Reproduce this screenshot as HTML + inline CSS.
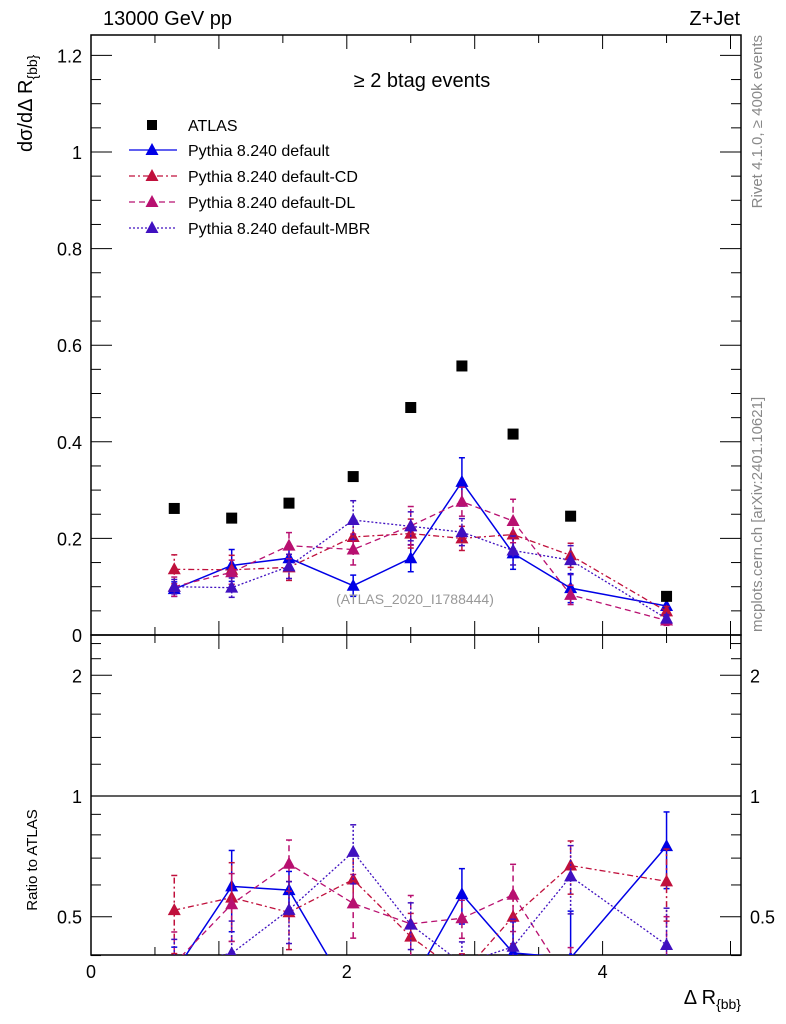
<!DOCTYPE html>
<html><head><meta charset="utf-8"><style>
body{margin:0;background:#fff}
svg{display:block;font-family:"Liberation Sans",sans-serif}
</style></head><body>
<svg id="c" width="786" height="1024" viewBox="0 0 786 1024">
<defs>
<clipPath id="clipMain"><rect x="91" y="35" width="650" height="600"/></clipPath>
<clipPath id="clipRatio"><rect x="91" y="635" width="650" height="320"/></clipPath>
</defs>
<g id="frame"></g>
<g id="marks"></g>
<text x="103" y="25" font-size="20">13000 GeV pp</text>
<text x="740" y="25" font-size="20" text-anchor="end">Z+Jet</text>
<text x="422" y="87" font-size="20" text-anchor="middle">≥ 2 btag events</text>
<text x="415" y="604" font-size="14" fill="#999" text-anchor="middle">(ATLAS_2020_I1788444)</text>
<text transform="translate(762,35) rotate(-90)" font-size="15" fill="#888" text-anchor="end">Rivet 4.1.0, ≥ 400k events</text>
<text transform="translate(762,632) rotate(-90)" font-size="15" fill="#888">mcplots.cern.ch [arXiv:2401.10621]</text>
<text transform="translate(32,152) rotate(-90)" font-size="20">dσ/dΔ R<tspan font-size="14" dy="5">{bb}</tspan></text>
<text transform="translate(37,860) rotate(-90)" font-size="15" text-anchor="middle">Ratio to ATLAS</text>
<text x="741" y="1004" font-size="20" text-anchor="end">Δ R<tspan font-size="14" dy="5">{bb}</tspan></text>
<g id="legend"></g>
</svg>
<script>
const centers=[0.651,1.1,1.548,2.05,2.5,2.9,3.3,3.75,4.5];
const atlas=[0.262,0.242,0.273,0.328,0.471,0.557,0.416,0.246,0.080];
const pyDef=[0.095,0.144,0.159,0.102,0.159,0.317,0.169,0.097,0.060];
const pyDefErr=[0.015,0.033,0.018,0.022,0.028,0.050,0.033,0.030,0.013];
const pyCD=[0.136,0.135,0.140,0.203,0.210,0.200,0.208,0.165,0.049];
const pyCDErr=[0.030,0.030,0.027,0.030,0.030,0.025,0.030,0.025,0.010];
const pyDL=[0.100,0.130,0.185,0.177,0.226,0.276,0.236,0.083,0.030];
const pyDLErr=[0.020,0.025,0.027,0.032,0.040,0.030,0.045,0.020,0.010];
const pyMBR=[0.100,0.098,0.142,0.238,0.225,0.213,0.175,0.155,0.034];
const pyMBRErr=[0.015,0.020,0.025,0.040,0.030,0.028,0.030,0.030,0.008];
const mainTicks=[0,0.2,0.4,0.6,0.8,1,1.2];
const mainTickLabels=["0","0.2","0.4","0.6","0.8","1","1.2"];
const ratioTicks=[0.5,1,2];
const ratioTickLabels=["0.5","1","2"];
const xTicks=[0,2,4];
const xTickLabels=["0","2","4"];

const NS="http://www.w3.org/2000/svg";
const X=v=>91+v*127.9;
const Y=v=>635-v*483;
const R=v=>796-Math.log2(v)*120.7;
function mk(t,a,p){const e=document.createElementNS(NS,t);for(const k in a)e.setAttribute(k,a[k]);p.appendChild(e);return e;}
const frame=document.getElementById('frame'),marks=document.getElementById('marks'),leg=document.getElementById('legend');

let f1=mk('rect',{x:91,y:35,width:650,height:600,fill:'none',stroke:'#000','stroke-width':1.5},frame);

let f2=mk('rect',{x:91,y:635,width:650,height:320,fill:'none',stroke:'#000','stroke-width':1.5},frame);

let l1=mk('line',{x1:91,x2:741,y1:R(1),y2:R(1),stroke:'#000','stroke-width':1.2},frame);


for(let v=0;v<=5.05;v+=0.5){
  const maj=Math.abs(v-Math.round(v))<1e-6;const L=maj?14:8;
  [[635,-1],[35,1],[955,-1],[635,1]].forEach(([y,d])=>{mk('line',{x1:X(v),x2:X(v),y1:y,y2:y+d*L,stroke:'#000','stroke-width':1},frame);});
}
xTicks.forEach((v,i)=>{const t=mk('text',{x:X(v),y:978,'font-size':18,'text-anchor':'middle'},frame);t.textContent=xTickLabels[i];
});
for(let v=0;v<=1.25;v+=0.05){const maj=Math.round(v*100)%20===0;const L=maj?21:10;
  mk('line',{x1:91,x2:91+L,y1:Y(v),y2:Y(v),stroke:'#000'},frame);mk('line',{x1:741,x2:741-L,y1:Y(v),y2:Y(v),stroke:'#000'},frame);}
mainTicks.forEach((v,i)=>{const t=mk('text',{x:82,y:Y(v)+7,'font-size':18,'text-anchor':'end'},frame);t.textContent=mainTickLabels[i];
});
[0.4,0.5,0.6,0.7,0.8,0.9,1,2].forEach(v=>{const maj=ratioTicks.includes(v);const L=maj?21:10;
  mk('line',{x1:91,x2:91+L,y1:R(v),y2:R(v),stroke:'#000'},frame);mk('line',{x1:741,x2:741-L,y1:R(v),y2:R(v),stroke:'#000'},frame);});
[1.2,1.4,1.6,1.8,2.2,2.4].forEach(v=>{mk('line',{x1:91,x2:101,y1:R(v),y2:R(v),stroke:'#000'},frame);mk('line',{x1:741,x2:731,y1:R(v),y2:R(v),stroke:'#000'},frame);});
ratioTicks.forEach((v,i)=>{[[82,'end'],[750,'start']].forEach(([x,a])=>{const t=mk('text',{x:x,y:R(v)+7,'font-size':18,'text-anchor':a},frame);t.textContent=ratioTickLabels[i];
});});

const series=[
 {name:'default',vals:pyDef,err:pyDefErr,col:'#0000e6',dash:'',w:1.5},
 {name:'cd',vals:pyCD,err:pyCDErr,col:'#c0103c',dash:'6,3,2,3',w:1.3},
 {name:'dl',vals:pyDL,err:pyDLErr,col:'#b81070',dash:'6,4',w:1.3},
 {name:'mbr',vals:pyMBR,err:pyMBRErr,col:'#4010c0',dash:'2,2',w:1.3}
];
function tri(g,x,y,col){mk('path',{d:`M${x},${y-7}L${x+6.5},${y+5}L${x-6.5},${y+5}Z`,fill:col},g);}
const gMain=mk('g',{'clip-path':'url(#clipMain)'},marks);
const gRat=mk('g',{'clip-path':'url(#clipRatio)'},marks);
series.forEach(s=>{
  const g=mk('g',{},gMain);
  const gr=mk('g',{},gRat);
  const pts=centers.map((c,i)=>X(c)+','+Y(s.vals[i])).join(' ');
  mk('polyline',{points:pts,fill:'none',stroke:s.col,'stroke-width':s.w,'stroke-dasharray':s.dash},g);
  const rp=centers.map((c,i)=>X(c)+','+R(s.vals[i]/atlas[i])).join(' ');
  mk('polyline',{points:rp,fill:'none',stroke:s.col,'stroke-width':s.w,'stroke-dasharray':s.dash},gr);
  centers.forEach((c,i)=>{
    const x=X(c),v=s.vals[i],e=s.err[i];
    [[Y(v-e),Y(v+e),Y(v),g],[R(Math.max(v-e,0.01)/atlas[i]),R((v+e)/atlas[i]),R(v/atlas[i]),gr]].forEach(([a,b,m,gg])=>{
      mk('line',{x1:x,x2:x,y1:a,y2:b,stroke:s.col,'stroke-width':1.5,'stroke-dasharray':s.dash},gg);
      mk('line',{x1:x-3,x2:x+3,y1:a,y2:a,stroke:s.col,'stroke-width':1.5},gg);
      mk('line',{x1:x-3,x2:x+3,y1:b,y2:b,stroke:s.col,'stroke-width':1.5},gg);
      tri(gg,x,m,s.col);
    });
  });
});
const ga=mk('g',{},gMain);
centers.forEach((c,i)=>{const r=mk('rect',{x:X(c)-5.5,y:Y(atlas[i])-5.5,width:11,height:11,fill:'#000'},ga);
});

const ly=[125,150,176,202,228];
const labels=['ATLAS','Pythia 8.240 default','Pythia 8.240 default-CD','Pythia 8.240 default-DL','Pythia 8.240 default-MBR'];
labels.forEach((lab,i)=>{
  const g=mk('g',{},leg);
  if(i===0){mk('rect',{x:147,y:ly[i]-5,width:10,height:10,fill:'#000'},g);}
  else{const s=series[i-1];mk('line',{x1:129,x2:177,y1:ly[i],y2:ly[i],stroke:s.col,'stroke-width':1.3,'stroke-dasharray':s.dash},g);tri(g,152,ly[i],s.col);}
  const t=mk('text',{x:188,y:ly[i]+6,'font-size':16},g);t.textContent=lab;
});
</script>
</body></html>
